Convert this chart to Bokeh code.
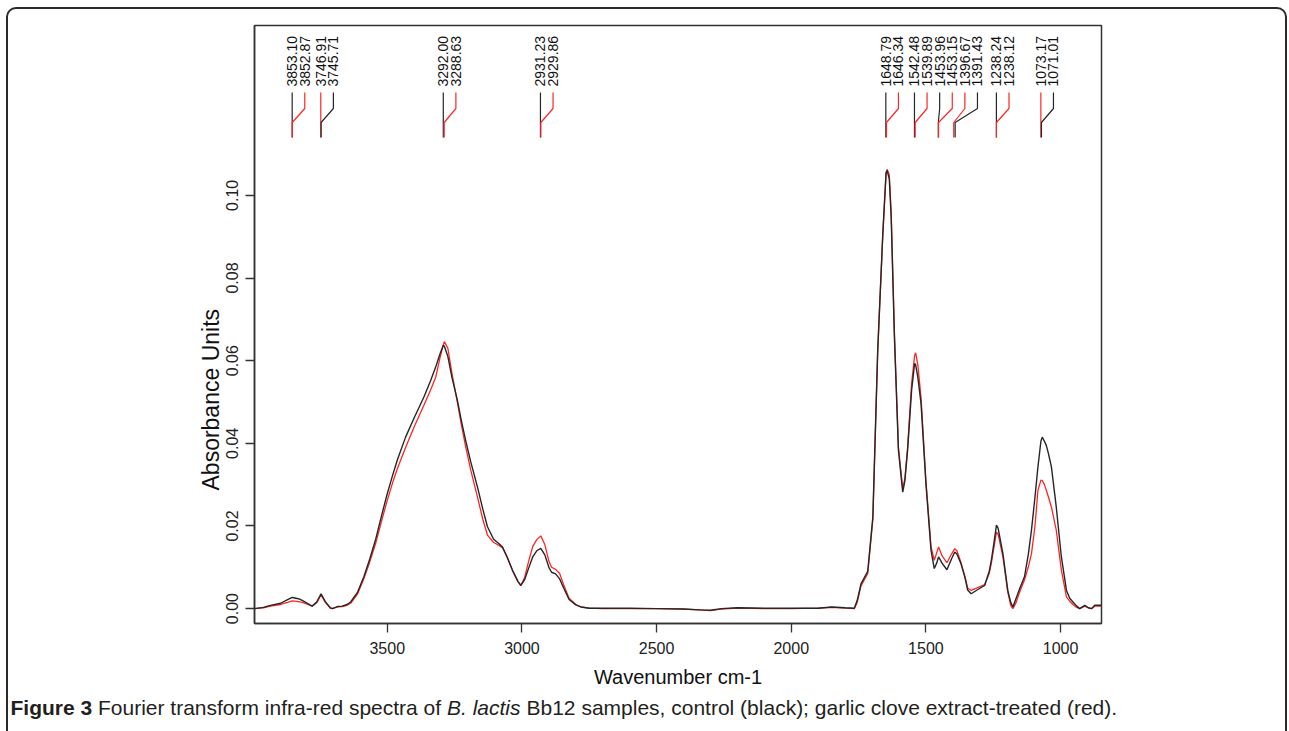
import numpy as np
from bokeh.plotting import figure
from bokeh.layouts import column
from bokeh.models import Range1d, FixedTicker, PrintfTickFormatter, Title, InlineStyleSheet
from bokeh.core.properties import value
from bokeh.embed import file_html
from bokeh.resources import INLINE

# ---------------- data ----------------
wavenumber = [3993, 3960, 3934, 3896, 3870, 3853, 3830, 3816, 3795, 3779, 3762, 3746, 3730, 3712,
              3704, 3685, 3667, 3650, 3636, 3610, 3587, 3565, 3543, 3520, 3500, 3480, 3463, 3432,
              3400, 3364, 3340, 3320, 3305, 3292, 3288, 3275, 3260, 3240, 3225, 3209, 3190, 3165,
              3145, 3128, 3105, 3085, 3072, 3055, 3035, 3015, 3004, 2990, 2975, 2960, 2945, 2930,
              2915, 2900, 2890, 2875, 2860, 2845, 2825, 2800, 2781, 2750, 2700, 2600, 2500, 2400,
              2340, 2300, 2260, 2200, 2100, 2000, 1900, 1850, 1800, 1766, 1755, 1741, 1716, 1697,
              1679, 1660, 1648, 1644, 1636, 1629, 1617, 1602, 1586, 1578, 1568, 1553, 1542, 1538,
              1530, 1518, 1500, 1481, 1469, 1460, 1453, 1440, 1422, 1405, 1393, 1385, 1370, 1355,
              1345, 1332, 1310, 1282, 1265, 1257, 1245, 1238, 1232, 1214, 1196, 1185, 1177, 1165,
              1152, 1134, 1120, 1108, 1095, 1084, 1073, 1068, 1060, 1053, 1045, 1034, 1016, 997,
              978, 966, 954, 940, 929, 910, 897, 885, 873, 848]

control_abs = [0.0, 0.0003, 0.0008, 0.0013, 0.0022, 0.0027, 0.0024, 0.0020, 0.0012, 0.0006, 0.0016, 0.0036, 0.0017, 0.0002,
               0.0, 0.0005, 0.0006, 0.0010, 0.0016, 0.0040, 0.0077, 0.0120, 0.0168, 0.0228, 0.0278, 0.0323, 0.0359, 0.0415,
               0.0462, 0.0512, 0.0550, 0.0585, 0.0615, 0.0637, 0.0635, 0.0610, 0.0560, 0.0505, 0.0455, 0.0407, 0.0355, 0.0294,
               0.0240, 0.0198, 0.0168, 0.0157, 0.0149, 0.0125, 0.0093, 0.0066, 0.0056, 0.0070, 0.0098, 0.0125, 0.0140, 0.0146,
               0.0130, 0.0100, 0.0088, 0.0084, 0.0072, 0.0050, 0.0022, 0.0009, 0.0004, 0.0001, 0.0001, 0.0001, 0.0, -0.0001,
               -0.0003, -0.0004, 0.0, 0.0002, 0.0001, 0.0001, 0.0001, 0.0004, 0.0002, 0.0001, 0.0020, 0.0060, 0.0090, 0.0222,
               0.0625, 0.0908, 0.1055, 0.1060, 0.1040, 0.0948, 0.0658, 0.0383, 0.0282, 0.0310, 0.0383, 0.0529, 0.0593, 0.0590,
               0.0560, 0.0496, 0.0303, 0.0141, 0.0097, 0.0110, 0.0125, 0.0110, 0.0094, 0.0120, 0.0137, 0.0132, 0.0109, 0.0075,
               0.0045, 0.0036, 0.0045, 0.0056, 0.0090, 0.0117, 0.0170, 0.0202, 0.0195, 0.0133, 0.0044, 0.0015, 0.0004, 0.0025,
               0.0048, 0.0077, 0.0130, 0.0190, 0.0270, 0.0343, 0.0405, 0.0415, 0.0405, 0.0395, 0.0375, 0.0343, 0.0246, 0.0125,
               0.0044, 0.0025, 0.0016, 0.0006, 0.0, 0.0008, 0.0002, 0.0, 0.0008, 0.0008]

treated_abs = [0.0, 0.0002, 0.0006, 0.0010, 0.0015, 0.0019, 0.0017, 0.0015, 0.0010, 0.0006, 0.0014, 0.0033, 0.0015, 0.0002,
               0.0, 0.0004, 0.0005, 0.0008, 0.0013, 0.0036, 0.0072, 0.0113, 0.0158, 0.0215, 0.0262, 0.0305, 0.0338, 0.0390,
               0.0440, 0.0492, 0.0528, 0.0560, 0.0605, 0.0638, 0.0646, 0.0630, 0.0570, 0.0500, 0.0445, 0.0392, 0.0335, 0.0270,
               0.0215, 0.0178, 0.0160, 0.0153, 0.0147, 0.0125, 0.0092, 0.0066, 0.0056, 0.0075, 0.0115, 0.0150, 0.0167, 0.0176,
               0.0155, 0.0115, 0.0100, 0.0095, 0.0085, 0.0058, 0.0025, 0.0010, 0.0004, 0.0001, 0.0, 0.0, 0.0, -0.0001,
               -0.0003, -0.0005, -0.0001, 0.0001, 0.0, 0.0, 0.0001, 0.0003, 0.0001, 0.0, 0.0015, 0.0055, 0.0085, 0.0215,
               0.0620, 0.0905, 0.1050, 0.1063, 0.1050, 0.0960, 0.0670, 0.0390, 0.0290, 0.0315, 0.0390, 0.0545, 0.0612, 0.0619,
               0.0590, 0.0510, 0.0310, 0.0150, 0.0117, 0.0135, 0.0149, 0.0128, 0.0111, 0.0132, 0.0145, 0.0140, 0.0112, 0.0078,
               0.0050, 0.0044, 0.0050, 0.0058, 0.0085, 0.0110, 0.0158, 0.0185, 0.0180, 0.0125, 0.0040, 0.0008, 0.0, 0.0015,
               0.0040, 0.0069, 0.0100, 0.0133, 0.0200, 0.0286, 0.0311, 0.0310, 0.0300, 0.0287, 0.0270, 0.0246, 0.0190, 0.0093,
               0.0028, 0.0018, 0.0010, 0.0003, 0.0, 0.0006, 0.0002, 0.0, 0.0006, 0.0006]

control_peaks = [3853.10, 3745.71, 3292.00, 2931.23, 1648.79, 1542.48, 1453.96, 1391.43, 1238.24, 1071.01]
treated_peaks = [3852.87, 3746.91, 3288.63, 2929.86, 1646.34, 1539.89, 1453.15, 1396.67, 1238.12, 1073.17]

x_ticks = [3500, 3000, 2500, 2000, 1500, 1000]
y_ticks = [0.00, 0.02, 0.04, 0.06, 0.08, 0.10]

x_title = "Wavenumber cm-1"
y_title = "Absorbance Units"
caption_parts = ["Figure 3", "Fourier transform infra-red spectra of", "B. lactis",
                 "Bb12 samples, control (black); garlic clove extract-treated (red)."]

# ---------------- layout ----------------
W = 1289
H_PLOT, H_CAP = 696, 35
FL, FR, FT, FB = 254, 1101, 25, 623
X0, X1 = 3993, 848
Y0, Y1 = -0.0036, 0.1411

BLACK = "#262626"
RED = "#ff2424"
FONT = "Liberation Sans"


def yd(py):
    return Y1 - (py - FT) * (Y1 - Y0) / (FB - FT)


p = figure(width=W, height=H_PLOT, x_range=Range1d(X0, X1), y_range=Range1d(Y0, Y1),
           output_backend="svg", toolbar_location=None,
           min_border_left=FL, min_border_right=W - FR, min_border_top=FT, min_border_bottom=H_PLOT - FB)
p.frame_align = False
p.background_fill_color = "white"
p.border_fill_color = "white"
p.xgrid.visible = False
p.ygrid.visible = False
p.outline_line_color = "#333333"
p.outline_line_width = 1.5

p.xaxis.ticker = FixedTicker(ticks=x_ticks)
p.yaxis.ticker = FixedTicker(ticks=y_ticks)
p.yaxis.formatter = PrintfTickFormatter(format="%.2f")
p.yaxis.major_label_orientation = "vertical"
for ax in (p.xaxis, p.yaxis):
    ax.minor_tick_line_color = None
    ax.major_tick_in = 0
    ax.major_tick_out = 9
    ax.major_tick_line_color = "#333333"
    ax.major_tick_line_width = 1.3
    ax.axis_line_color = "#333333"
    ax.axis_line_width = 1.5
    ax.major_label_text_font = FONT
    ax.major_label_text_font_size = "16px"
    ax.major_label_text_color = "#222222"
p.xaxis.major_label_standoff = 9
p.yaxis.major_label_standoff = 7
p.xaxis.axis_label = x_title
p.xaxis.axis_label_text_font = FONT
p.xaxis.axis_label_text_font_size = "20px"
p.xaxis.axis_label_text_font_style = "normal"
p.xaxis.axis_label_text_color = "#111111"
p.xaxis.axis_label_standoff = 9

p.add_layout(Title(text=y_title, align="left", offset=133, standoff=0, text_font=FONT,
                   text_font_size="23px", text_font_style="normal", text_color="#111111"), "left")

# spectra
p.line(wavenumber, treated_abs, line_color=RED, line_width=1.3)
p.line(wavenumber, control_abs, line_color=BLACK, line_width=1.4)

# peak labels with leader lines
peaks = sorted([(w, BLACK) for w in control_peaks] + [(w, RED) for w in treated_peaks],
               key=lambda t: -t[0])
min_gap = 12.6 * (X0 - X1) / (FR - FL)
lab_x = []
prev = None
for w, c in peaks:
    pos = w if prev is None else min(w, prev - min_gap)
    lab_x.append(pos)
    prev = pos

xs = [[lx, lx, w, w] for lx, (w, c) in zip(lab_x, peaks)]
ys = [[yd(92), yd(108), yd(122), yd(137)] for _ in peaks]
p.multi_line(xs, ys, line_color=[c for w, c in peaks], line_width=1.2)
p.text(x=lab_x, y=[yd(86)] * len(peaks), text=["%.2f" % w for w, c in peaks],
       angle=np.pi / 2, text_align="left", text_baseline="middle",
       text_font=value(FONT), text_font_size="14px", text_color="#111111")

# caption strip
cap = figure(width=W, height=H_CAP, x_range=Range1d(0, W), y_range=Range1d(H_CAP, 0),
             output_backend="svg", toolbar_location=None, x_axis_type=None, y_axis_type=None,
             min_border_left=0, min_border_right=0, min_border_top=0, min_border_bottom=0)
cap.frame_align = False
cap.outline_line_color = None
cap.xgrid.visible = False
cap.ygrid.visible = False
cap_x = [10, 97.5, 446.5, 526]
cap_style = ["bold", "normal", "italic", "normal"]
for t, px, st in zip(caption_parts, cap_x, cap_style):
    cap.text(x=[px], y=[11], text=[t], text_align="left", text_baseline="middle",
             text_font=value(FONT), text_font_size="21px", text_font_style=st, text_color="#231f20")

frame_css = InlineStyleSheet(css="""
:host { position: relative; overflow: hidden; }
:host::after {
  content: ""; position: absolute; left: 6px; top: 7px; width: 1281px; height: 760px;
  border: 2px solid #2a2a2a; border-radius: 10px; box-sizing: border-box; pointer-events: none;
}
""")
layout = column(p, cap, spacing=0, stylesheets=[frame_css])

open("out.html", "w").write(file_html(layout, INLINE))
